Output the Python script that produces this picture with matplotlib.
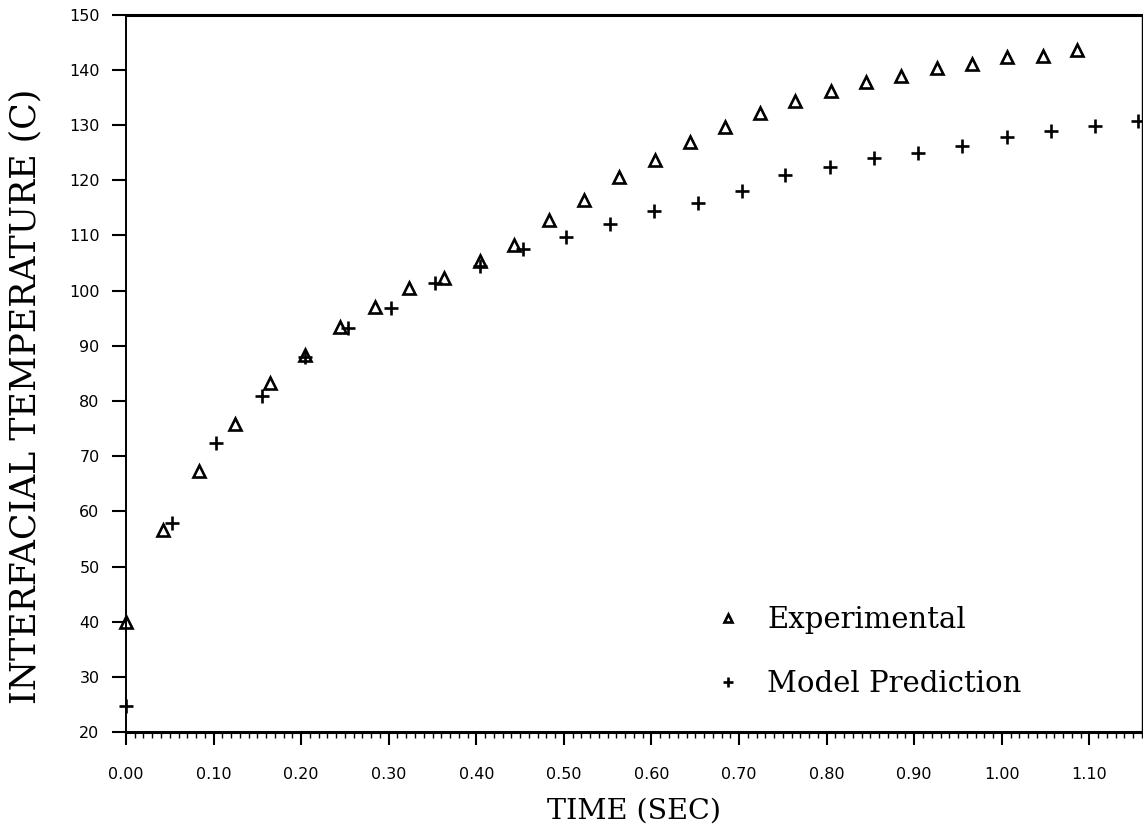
import numpy as np
import matplotlib
matplotlib.use("Agg")
import matplotlib.pyplot as plt
from matplotlib.ticker import MultipleLocator, FormatStrFormatter

# experimental points (triangles)
exp_time = [0.0, 0.042, 0.083, 0.124, 0.164, 0.204, 0.244, 0.284, 0.323, 0.363,
            0.404, 0.443, 0.483, 0.523, 0.563, 0.604, 0.644, 0.684, 0.724, 0.764,
            0.805, 0.845, 0.885, 0.926, 0.966, 1.006, 1.047, 1.086]
exp_temp = [40.0, 56.6, 67.3, 75.9, 83.3, 88.3, 93.4, 97.0, 100.5, 102.3,
            105.4, 108.2, 112.8, 116.4, 120.6, 123.6, 126.9, 129.7, 132.1, 134.3,
            136.1, 137.8, 138.9, 140.4, 141.1, 142.3, 142.5, 143.5]

# model prediction (crosses)
mod_time = [0.0, 0.053, 0.103, 0.155, 0.204, 0.253, 0.303, 0.353, 0.404, 0.453,
            0.502, 0.553, 0.603, 0.653, 0.703, 0.753, 0.804, 0.854, 0.904, 0.954,
            1.006, 1.056, 1.106, 1.156]
mod_temp = [24.8, 57.9, 72.4, 80.9, 88.0, 93.3, 96.8, 101.4, 104.4, 107.6,
            109.7, 112.0, 114.4, 115.8, 118.1, 120.9, 122.4, 124.0, 125.0, 126.2,
            127.8, 128.9, 129.8, 130.7]

fig = plt.figure(figsize=(11.43, 8.35), dpi=100)
ax = fig.add_axes([0.1102, 0.123, 0.8889, 0.8596])

ax.plot(exp_time, exp_temp, '^', ms=8.5, mfc='white', mec='black', mew=1.9,
        clip_on=False, label='Experimental')
ax.plot(mod_time, mod_temp, '+', ms=9.5, color='black', mew=1.9,
        clip_on=False, label='Model Prediction')

ax.set_xlim(0, 1.16)
ax.set_ylim(20, 150)

ax.xaxis.set_major_locator(MultipleLocator(0.1))
ax.xaxis.set_minor_locator(MultipleLocator(0.01))
ax.xaxis.set_major_formatter(FormatStrFormatter('%.2f'))
ax.yaxis.set_major_locator(MultipleLocator(10))

ax.tick_params(axis='x', which='major', direction='out', length=9, width=1.5,
               labelsize=11.5, pad=16)
ax.tick_params(axis='x', which='minor', direction='out', length=4, width=1.0)
ax.tick_params(axis='y', which='major', direction='out', length=10, width=1.5,
               labelsize=11.5, pad=9)

ax.spines['top'].set_linewidth(2.2)
ax.spines['bottom'].set_linewidth(2.2)
ax.spines['left'].set_linewidth(1.4)
ax.spines['right'].set_linewidth(1.0)

ax.set_xlabel('TIME (SEC)', family='DejaVu Serif', fontsize=20.5, labelpad=11)
ax.set_ylabel('INTERFACIAL TEMPERATURE (C)', family='DejaVu Serif', fontsize=25)
ax.yaxis.set_label_coords(-0.082, 0.468)

leg = ax.legend(loc='upper left', bbox_to_anchor=(0.578, 0.176), frameon=False,
                prop={'family': 'DejaVu Serif', 'size': 21},
                markerscale=0.7, handlelength=1.0, handletextpad=0.85,
                labelspacing=1.25, borderpad=0, borderaxespad=0)

fig.savefig('out.png', dpi=100)
